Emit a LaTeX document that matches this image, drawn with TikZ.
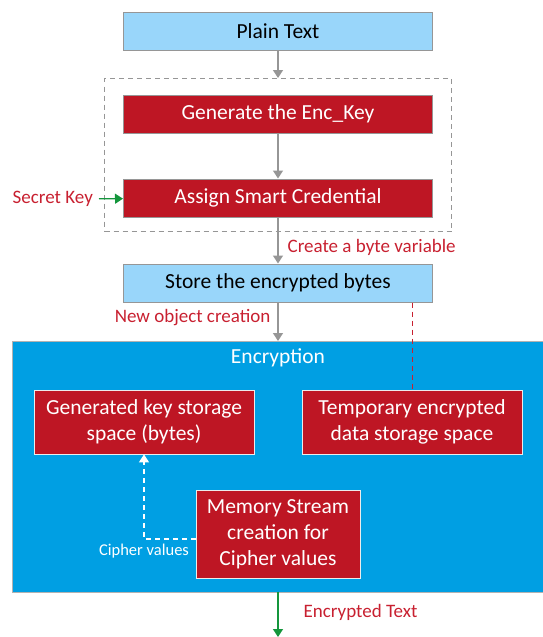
\documentclass[tikz,border=0pt]{standalone}
\usepackage{fontspec}
\setmainfont{Carlito}
\usetikzlibrary{arrows.meta, positioning}

\begin{document}
\begin{tikzpicture}
		[x=1pt,y=-1pt,line cap=butt,
		%Styles
		flow box/.style={draw=linegray,line width=1pt,minimum width=309pt,minimum height=38pt,inner sep=0pt,font=\fontsize{21.5}{24}\selectfont},
		light box/.style={flow box,fill=lightblue,text=black},
		red box/.style={flow box,fill=boxred,text=white},
		inner box/.style={draw=white!85!gray,line width=0.8pt,fill=boxred,text=white,align=center,inner sep=0pt,font=\fontsize{21.5}{26}\selectfont},
		flow/.style={draw=linegray,line width=1.3pt,-{Triangle[width=10pt,length=8pt]}},
		green arrow/.style={draw=arrowgreen,line width=1.3pt,-{Triangle[width=10pt,length=8pt]}},
		note/.style={text=notered,inner sep=0pt,font=\fontsize{19}{21}\selectfont}
		]
		
		%Colors
		\definecolor{linegray}{RGB}{150,150,150}
		\definecolor{lightblue}{RGB}{153,214,250}
		\definecolor{boxred}{RGB}{190,22,36}
		\definecolor{notered}{RGB}{200,32,48}
		\definecolor{encblue}{RGB}{0,159,227}
		\definecolor{arrowgreen}{RGB}{20,150,60}
		
		%The graphic
		\useasboundingbox (0,0) rectangle (542,637);
		
		\node[light box] (plain) at (278,31) {Plain Text};
		\node[draw=linegray,line width=1pt,dash pattern=on 5pt off 4pt,minimum width=347pt,minimum height=153pt,inner sep=0pt] (keybox) at (278,155) {};
		\node[red box] (gen) at (278,114) {Generate the Enc\_Key};
		\node[red box] (assign) at (278,198) {Assign Smart Credential};
		\node[light box] (store) at (278,283) {Store the encrypted bytes};
		
		\node[draw=gray!60,fill=encblue,minimum width=531pt,minimum height=251pt,inner sep=0pt,anchor=north west] (enc) at (12,341) {};
		\node[text=white,inner sep=0pt,font=\fontsize{21.5}{24}\selectfont] (enctitle) at (278,358) {Encryption};
		\node[inner box,minimum width=220pt,minimum height=64pt] (genkey) at (144,422) {Generated key storage\\space (bytes)};
		\node[inner box,minimum width=220pt,minimum height=64pt] (temp) at (412,422) {Temporary encrypted\\data storage space};
		\node[inner box,minimum width=164pt,minimum height=88pt] (mem) at (278,534) {Memory Stream\\creation for\\Cipher values};
		
		\node[note,anchor=east] (secret) at (93,199) {Secret Key};
		\coordinate (out) at (278,637);
		
		\draw[flow] (plain) -- (keybox);
		\draw[flow] (gen) -- (assign);
		\draw[flow] (assign) -- node[note,right=9pt,pos=0.65] {Create a byte variable} (store);
		\draw[flow] (store) -- node[note,left=7pt,pos=0.4] {New object creation} (store.south |- enc.north);
		\draw[draw=notered,line width=1pt,dash pattern=on 5pt off 4pt] (temp.north |- store.south) -- (temp.north);
		\draw[green arrow,shorten <=6pt] (secret) -- (assign);
		\draw[draw=white,line width=1.3pt,dash pattern=on 5pt off 4pt,-{Triangle[width=10pt,length=8pt]}] ([yshift=-5pt]mem.west) -| node[pos=0.5,below=4pt,text=white,inner sep=0pt,font=\fontsize{16.5}{18}\selectfont] {Cipher values} (genkey);
		\draw[green arrow] (out |- enc.south) -- node[note,right=25pt,pos=0.45] {Encrypted Text} (out);
		
	\end{tikzpicture}
\end{document}
